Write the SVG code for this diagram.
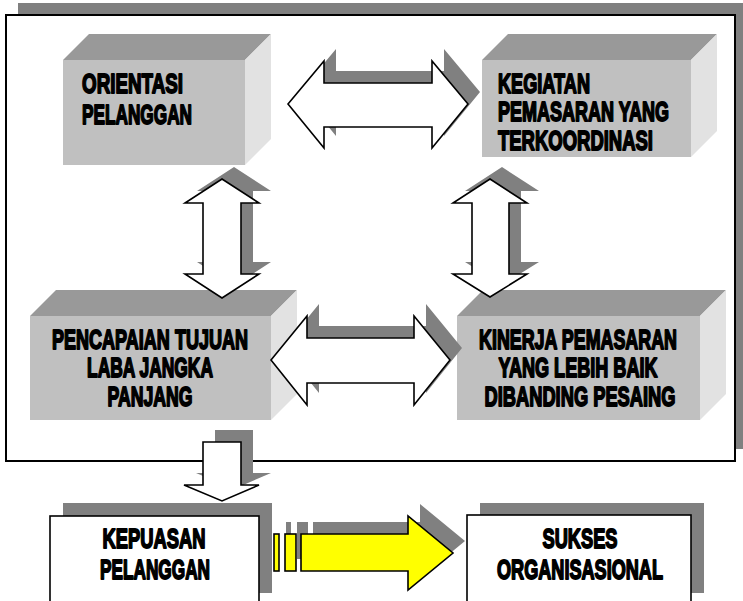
<svg xmlns="http://www.w3.org/2000/svg" width="743" height="601" viewBox="0 0 743 601">
<style>
.sh{fill:#808080}
.top{fill:#999999}
.front{fill:#c0c0c0}
.side{fill:#e2e2e2}
.arr{fill:#ffffff;stroke:#000;stroke-width:1.6;stroke-linejoin:miter}
.yel{fill:#ffff00;stroke:#000;stroke-width:1.6}
.box{fill:#ffffff;stroke:#000;stroke-width:1.6}
.t{font-family:"Liberation Sans Narrow","Liberation Sans",Arial,sans-serif;font-weight:bold;font-size:23px;fill:#000;stroke:#000;stroke-width:1.5;stroke-linejoin:round}
.c{text-anchor:middle}
</style>
<defs>
<polygon id="hArrTop" points="288,104 324,61 324,83 432,83 432,61 468,104 432,148 432,127 324,127 324,148"/>
<polygon id="hArrBot" points="271,360 307,316 307,338 414,338 414,316 450,360 414,405 414,383 307,383 307,405"/>
<polygon id="vArrL" points="222,179 259,203 241,203 241,274 259,274 222,298 185,274 203,274 203,203 185,203"/>
<polygon id="vArrR" points="490,179 527,203 509,203 509,274 527,274 490,297 453,274 472,274 472,203 453,203"/>
<polygon id="dArr" points="203,442 241,442 241,485 259,485 222,501 184,485 203,485"/>
<g id="yArr">
<rect x="274" y="534" width="5" height="37"/>
<rect x="285" y="534" width="11" height="37"/>
<polygon points="301,534 408,534 408,516 453,553 408,590 408,571 301,571"/>
</g>
</defs>

<g id="frame">
<rect class="sh" x="18" y="3" width="730" height="446"/>
<rect x="6" y="15" width="729" height="446" fill="#fff" stroke="#000" stroke-width="2"/>
</g>

<g id="node-orientasi">
<polygon class="top" points="63,60 89,34 271,34 245,60"/>
<polygon class="side" points="245,60 271,34 271,139 245,165"/>
<rect class="front" x="63" y="60" width="182" height="105"/>
<text class="t" transform="translate(82,93) scale(1,1.2)" textLength="101" lengthAdjust="spacingAndGlyphs">ORIENTASI</text>
<text class="t" transform="translate(82,124) scale(1,1.2)" textLength="110" lengthAdjust="spacingAndGlyphs">PELANGGAN</text>
</g>

<g id="node-kegiatan">
<polygon class="top" points="482,60 508,34 717,34 691,60"/>
<polygon class="side" points="691,60 717,34 717,131 691,157"/>
<rect class="front" x="482" y="60" width="209" height="97"/>
<text class="t" transform="translate(498,93) scale(1,1.2)" textLength="92" lengthAdjust="spacingAndGlyphs">KEGIATAN</text>
<text class="t" transform="translate(498,121) scale(1,1.2)" textLength="171" lengthAdjust="spacingAndGlyphs">PEMASARAN YANG</text>
<text class="t" transform="translate(498,150) scale(1,1.2)" textLength="155" lengthAdjust="spacingAndGlyphs">TERKOORDINASI</text>
</g>

<g id="node-pencapaian">
<polygon class="top" points="30,316 56,290 297,290 271,316"/>
<polygon class="side" points="271,316 297,290 297,394 271,420"/>
<rect class="front" x="30" y="316" width="241" height="104"/>
<text class="t c" transform="translate(150,349) scale(1,1.2)" textLength="196" lengthAdjust="spacingAndGlyphs">PENCAPAIAN TUJUAN</text>
<text class="t c" transform="translate(150,377) scale(1,1.2)" textLength="126" lengthAdjust="spacingAndGlyphs">LABA JANGKA</text>
<text class="t c" transform="translate(150,406) scale(1,1.2)" textLength="85" lengthAdjust="spacingAndGlyphs">PANJANG</text>
</g>

<g id="node-kinerja">
<polygon class="top" points="457,316 483,290 726,290 700,316"/>
<polygon class="side" points="700,316 726,290 726,394 700,420"/>
<rect class="front" x="457" y="316" width="243" height="104"/>
<text class="t c" transform="translate(578,349) scale(1,1.2)" textLength="198" lengthAdjust="spacingAndGlyphs">KINERJA PEMASARAN</text>
<text class="t c" transform="translate(578,377) scale(1,1.2)" textLength="159" lengthAdjust="spacingAndGlyphs">YANG LEBIH BAIK</text>
<text class="t c" transform="translate(580,406) scale(1,1.2)" textLength="191" lengthAdjust="spacingAndGlyphs">DIBANDING PESAING</text>
</g>

<g id="node-kepuasan">
<rect class="sh" x="63" y="503" width="209" height="90"/>
<rect class="box" x="50" y="516" width="209" height="95"/>
<text class="t c" transform="translate(154,548) scale(1,1.2)" textLength="103" lengthAdjust="spacingAndGlyphs">KEPUASAN</text>
<text class="t c" transform="translate(155,579) scale(1,1.2)" textLength="110" lengthAdjust="spacingAndGlyphs">PELANGGAN</text>
</g>

<g id="node-sukses">
<rect class="sh" x="480" y="503" width="224" height="90"/>
<rect class="box" x="467" y="515" width="224" height="96"/>
<text class="t c" transform="translate(580,548) scale(1,1.2)" textLength="75" lengthAdjust="spacingAndGlyphs">SUKSES</text>
<text class="t c" transform="translate(580,579) scale(1,1.2)" textLength="166" lengthAdjust="spacingAndGlyphs">ORGANISASIONAL</text>
</g>

<g id="connectors">
<use href="#hArrTop" class="sh" transform="translate(12,-12)"/>
<use href="#hArrTop" class="arr"/>
<use href="#hArrBot" class="sh" transform="translate(12,-12)"/>
<use href="#hArrBot" class="arr"/>
<use href="#vArrL" class="sh" transform="translate(12,-12)"/>
<use href="#vArrL" class="arr"/>
<use href="#vArrR" class="sh" transform="translate(12,-12)"/>
<use href="#vArrR" class="arr"/>
<use href="#dArr" class="sh" transform="translate(12,-12)"/>
<use href="#dArr" class="arr"/>
<use href="#yArr" class="sh" transform="translate(12,-12)"/>
<use href="#yArr" class="yel"/>
</g>
</svg>
